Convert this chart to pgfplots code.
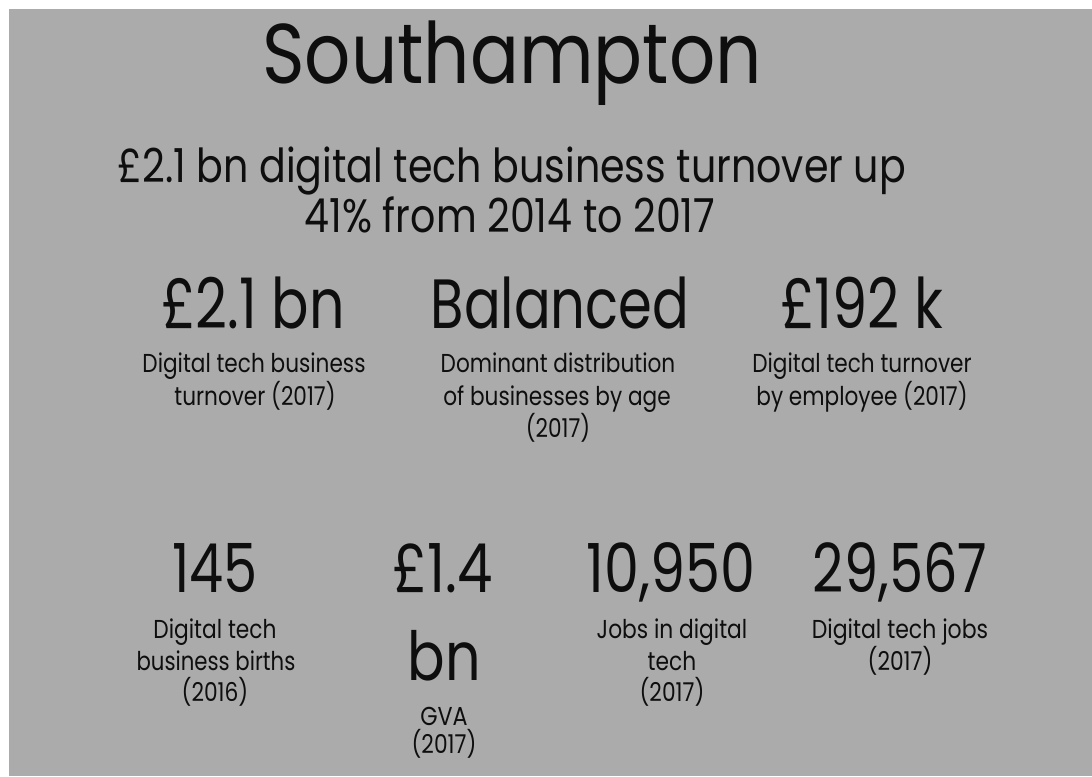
\documentclass[border=0pt]{standalone}
\usepackage{graphicx}
\usepackage{pgfplots}
\pgfplotsset{compat=1.18}
\usepackage{fontspec}
\setmainfont{Poppins}
\definecolor{bg}{HTML}{ABABAB}
\definecolor{ink}{HTML}{0E0E0E}
\newcommand{\fs}[1]{\fontsize{#1}{#1}\selectfont}
% \lbl{x}{baseline y}{size}{xscale}{text}
\newcommand{\lbl}[5]{\node[anchor=base,inner sep=0pt,text=ink] at (axis cs:#1,#2) {\scalebox{#4}[1]{\fs{#3}#5}};}
\begin{document}
\begin{tikzpicture}
\begin{axis}[width=1092bp,height=776bp,scale only axis,hide axis,
  xmin=0,xmax=1092,ymin=0,ymax=776,y dir=reverse,clip=false]
\addplot[draw=none] coordinates {(0,0) (1092,776)};
\fill[white] (axis cs:0,0) rectangle (axis cs:1092,776);
\fill[bg] (axis cs:9,9) rectangle (axis cs:1092,776);
% title
\lbl{512}{84}{85}{0.855}{Southampton}
\lbl{512}{182}{47}{0.845}{£2.1 bn digital tech business turnover up}
\lbl{510}{232}{47}{0.845}{41\% from 2014 to 2017}
% row 1
\lbl{253}{328}{70}{0.795}{£2.1 bn}
\lbl{560}{328}{70}{0.78}{Balanced}
\lbl{862}{328}{70}{0.80}{£192 k}
\lbl{254}{372}{26}{0.835}{Digital tech business}
\lbl{255}{405}{26}{0.835}{turnover (2017)}
\lbl{558}{372}{26}{0.835}{Dominant distribution}
\lbl{557}{405}{26}{0.835}{of businesses by age}
\lbl{558}{437}{26}{0.835}{(2017)}
\lbl{862}{372}{26}{0.835}{Digital tech turnover}
\lbl{862}{405}{26}{0.835}{by employee (2017)}
% row 2
\lbl{215}{592}{68}{0.80}{145}
\lbl{443}{592}{68}{0.83}{£1.4}
\lbl{444}{680}{68}{0.82}{bn}
\lbl{671}{592}{68}{0.82}{10,950}
\lbl{900}{592}{68}{0.80}{29,567}
\lbl{215}{638}{26}{0.84}{Digital tech}
\lbl{216}{670}{26}{0.82}{business births}
\lbl{215}{701}{26}{0.84}{(2016)}
\lbl{444}{725}{26}{0.86}{GVA}
\lbl{444}{753}{26}{0.84}{(2017)}
\lbl{672}{638}{26}{0.84}{Jobs in digital}
\lbl{672}{670}{26}{0.84}{tech}
\lbl{672}{701}{26}{0.84}{(2017)}
\lbl{900}{638}{26}{0.85}{Digital tech jobs}
\lbl{900}{670}{26}{0.84}{(2017)}
\end{axis}
\end{tikzpicture}
\end{document}
